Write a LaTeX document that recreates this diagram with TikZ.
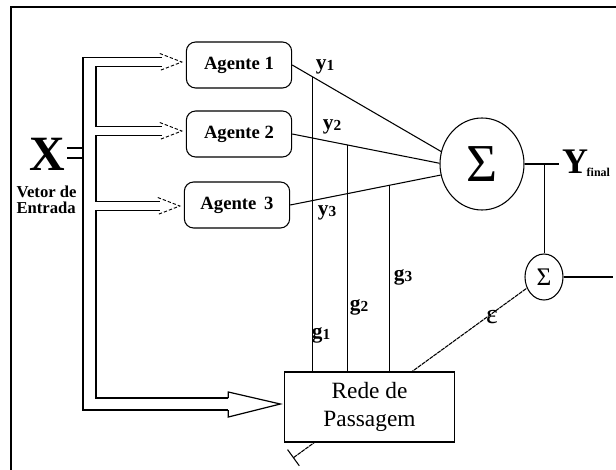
\documentclass[tikz,border=0pt]{standalone}
\usepackage{fontspec}
\setmainfont{Liberation Serif}
\usetikzlibrary{arrows.meta,calc,shapes.geometric,backgrounds}
\tikzset{
  agente/.style={draw,rounded corners=7pt,minimum width=79pt,minimum height=34.5pt,
                 inner sep=2pt,font=\fontsize{14}{16}\bfseries},
  caixa/.style={draw,fill=white,minimum width=127pt,minimum height=52.5pt,align=center,
                inner sep=2pt,font=\fontsize{17.5}{21}\selectfont},
  soma/.style={draw,ellipse,minimum width=63pt,minimum height=69pt,inner sep=0pt,
               font=\fontsize{40}{40}\selectfont},
  somap/.style={draw,ellipse,minimum width=28.5pt,minimum height=34.5pt,inner sep=0pt,
                font=\fontsize{19}{19}\selectfont},
  rotulo/.style={inner sep=1pt,font=\fontsize{16}{16}\bfseries},
  seta/.style={dashed,dash pattern=on 2.5pt off 1.5pt,line width=0.7pt},
  tubo/.style={line width=0.9pt},
  linha/.style={line width=0.8pt},
}
\newcommand{\ind}[2]{#1\raisebox{-1pt}{\fontsize{11.5}{11.5}\selectfont #2}}

\begin{document}
\begin{tikzpicture}[x=0.75pt,y=-0.75pt,line width=0.8pt]
\useasboundingbox (0,0) rectangle (616,470);

% moldura
\draw[line width=1.3pt] (11,470) -- (11,7) -- (616,7);

\node[inner sep=0pt,font=\fontsize{37}{37}\bfseries] (x) at (47,154) {X};
\node[inner sep=0pt,align=left,anchor=north west,font=\fontsize{12.5}{12}\bfseries]
  (vetor) at (16,185) {Vetor de\\Entrada};

\node[agente] (a1) at (239,65) {Agente 1};
\node[agente] (a2) at (239,134) {Agente 2};
\node[agente] (a3) at (237,205) {Agente~\,3};
\node[soma] (s) at (482,164) {Σ};
\node[somap] (sp) at (544,277) {Σ};
\node[caixa] (rede) at (369.5,407) {Rede de\\Passagem};

% pontas e colunas do tubo
\coordinate (t1) at ($(a1.west)+(-4,-3)$);
\coordinate (t2) at ($(a2.west)+(-4,-3)$);
\coordinate (t3) at ($(a3.west)+(-4,1)$);
\coordinate (tr) at ($(rede.west)+(-4,-3)$);
\coordinate (co) at (83,0);
\coordinate (ci) at (96,0);

\draw[tubo] ($(x.east)+(2,-6)$) -- ($(co |- x.east)+(0,-6)$);
\draw[tubo] ($(x.east)+(2,4)$) -- ($(co |- x.east)+(0,4)$);
\draw[tubo] ($(t1)+(-20,-4.5)$) -| ($(co |- tr)+(0,6)$) -- ($(tr)+(-52,6)$);
\draw[tubo] ($(t1)+(-20,4.5)$) -| ($(ci |- t2)+(0,-4.5)$) -- ($(t2)+(-20,-4.5)$);
\draw[tubo] ($(t2)+(-20,4.5)$) -| ($(ci |- t3)+(0,-4.5)$) -- ($(t3)+(-20,-4.5)$);
\draw[tubo] ($(t3)+(-20,4.5)$) -| ($(ci |- tr)+(0,-6)$) -- ($(tr)+(-52,-6)$);
\foreach \t in {t1,t2,t3}
  \draw[seta] ($(\t)+(-22,-8.5)$) -- (\t) -- ($(\t)+(-22,8.5)$);
\draw[tubo,line join=miter] ($(tr)+(-52,-6)$) -- ++(0,-6) -- (tr) -- ($(tr)+(-52,13)$) -- ++(0,-7);

% saidas dos agentes
\draw[linha] (a1.east) -- coordinate[pos=0.135] (g1) (s.163);
\draw[linha] (a2.east) -- coordinate[pos=0.378] (g2) (s.179);
\draw[linha] (a3.east) -- coordinate[pos=0.658] (g3) (s.195);
\draw[linha] (g1) -- (g1 |- rede.north);
\draw[linha] (g2) -- (g2 |- rede.north);
\draw[linha] (g3) -- (g3 |- rede.north);

\node[rotulo] (y1) at (325,67) {\ind{y}{1}};
\node[rotulo] (y2) at (332,127) {\ind{y}{2}};
\node[rotulo] (y3) at (327,213) {\ind{y}{3}};
\node[rotulo] (lg1) at (321,335) {\ind{g}{1}};
\node[rotulo] (lg2) at (359,307) {\ind{g}{2}};
\node[rotulo] (lg3) at (403,277) {\ind{g}{3}};

% saida final
\coordinate (j) at ($(s.east)+(20,0)$);
\coordinate (yf) at ($(s.east)+(34,0)$);
\draw[linha] (s.east) -- (yf);
\draw[linha] (j) -- (j |- sp.north);
\node[anchor=west,inner sep=0pt,font=\fontsize{27}{27}\bfseries] (yfin) at ($(yf)+(3,-1)$)
  {Y\kern-1pt\raisebox{-2pt}{\fontsize{9}{9}\selectfont final}};
\coordinate (sd) at ($(sp.east)+(49,0)$);
\draw[linha] (sp.east) -- (sd);

% erro
\coordinate (eb) at (293,458);
\begin{scope}[on background layer]
  \draw[linha,{Bar[width=15pt]}-,dash pattern=on 3pt off 0.6pt] (eb) -- (sp.213);
\end{scope}
\node[inner sep=0pt,font=\fontsize{21}{21}\selectfont] (eps) at (492,317) {ε};

\end{tikzpicture}
\end{document}
